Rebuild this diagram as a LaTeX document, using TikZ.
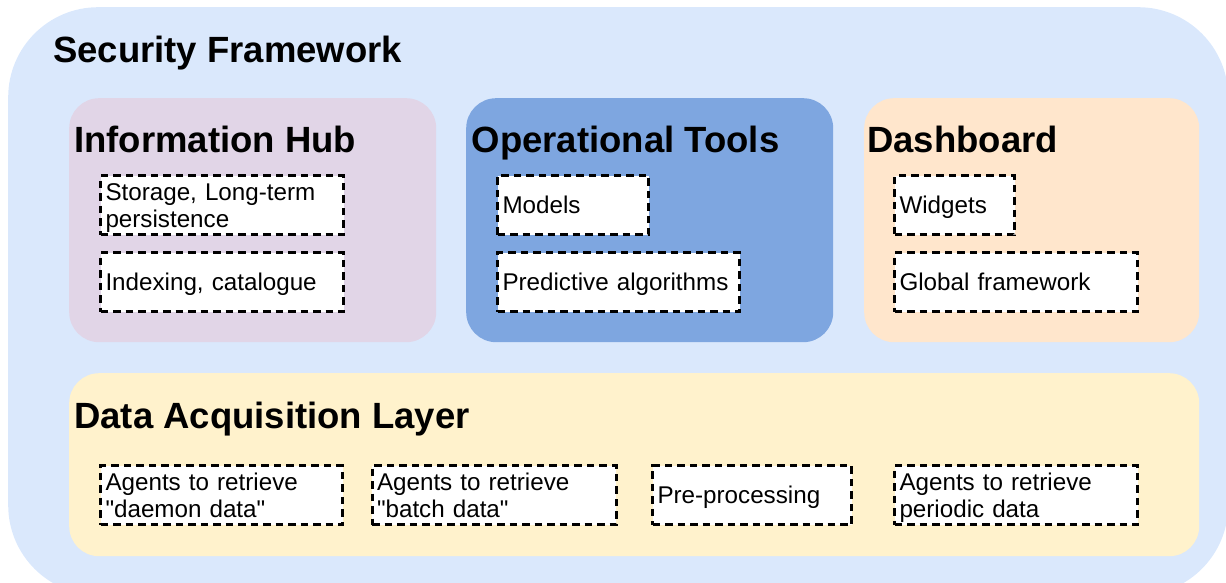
\documentclass[tikz,border=0pt]{standalone}
\usepackage{fontspec}
\setmainfont{Liberation Sans}[Ligatures=TeXOff]
\usepackage{tikz}
\usetikzlibrary{positioning}
\definecolor{frameblue}{HTML}{DAE8FC}
\definecolor{hubpurple}{HTML}{E1D5E7}
\definecolor{toolblue}{HTML}{7EA6E0}
\definecolor{boardorange}{HTML}{FFE6CC}
\definecolor{acqyellow}{HTML}{FFF2CC}
\newcommand{\taskstrut}{\vrule height 22.9pt depth 5.5pt width 0pt\relax}
\newcommand{\taskfont}{\fontsize{24.2}{27}\selectfont\lineskiplimit=-50pt\relax}

\begin{document}
\begin{tikzpicture}[x=1pt, y=-1pt,
    layer/.style={rounded corners=30pt, inner sep=0pt, anchor=north west},
    heading/.style={anchor=base west, inner sep=0pt, font=\fontsize{36.5}{40}\selectfont\bfseries},
    task/.style={draw, line width=3pt, dash pattern=on 7.5pt off 5pt, fill=white,
      text width=#1pt, minimum height=59pt, inner xsep=5pt, inner ysep=0pt, align=left,
      font=\taskfont, execute at begin node=\taskstrut, execute at end node=\taskstrut}]
  \useasboundingbox (0,0) rectangle (1226,583);
  \clip (0,0) rectangle (1226,583);

  \node (frame) [layer, rounded corners=90pt, fill=frameblue, minimum width=1220, minimum height=588] at (8,7) {};
  \node (frametitle) [heading] at (53,63) {Security Framework};

  \node (hub) [layer, fill=hubpurple, minimum width=367, minimum height=244] at (69,98) {};
  \node (hubtitle) [heading] at (74,153) {Information Hub};
  \node (tools) [layer, fill=toolblue, minimum width=367, minimum height=244] at (466,98) {};
  \node (toolstitle) [heading] at (471.5,153) {Operational Tools};
  \node (board) [layer, fill=boardorange, minimum width=335, minimum height=244] at (864,98) {};
  \node (boardtitle) [heading] at (867,153) {Dashboard};
  \node (acq) [layer, fill=acqyellow, minimum width=1130, minimum height=183] at (69,373) {};
  \node (acqtitle) [heading] at (74,428) {Data Acquisition Layer};

  \node (store) [task=233] at (222,205) {Storage, Long-term\\persistence};
  \node (index) [task=233, below=15pt of store.south west, anchor=north west] {Indexing, catalogue};
  \node (models) [task=141] at (573,205) {Models};
  \node (predict) [task=232, below=15pt of models.south west, anchor=north west] {Predictive algorithms};
  \node (widgets) [task=110] at (954.5,205) {Widgets};
  \node (global) [task=233, below=15pt of widgets.south west, anchor=north west] {Global framework};

  \node (daemon) [task=232] at (221.5,495) {Agents to retrieve\\"daemon data"};
  \node (batch) [task=234] at (494,495) {Agents to retrieve\\"batch data"};
  \node (pre) [task=189] at (752,495) {Pre-processing};
  \node (periodic) [task=233] at (1016,495) {Agents to retrieve\\periodic data};
\end{tikzpicture}
\end{document}
